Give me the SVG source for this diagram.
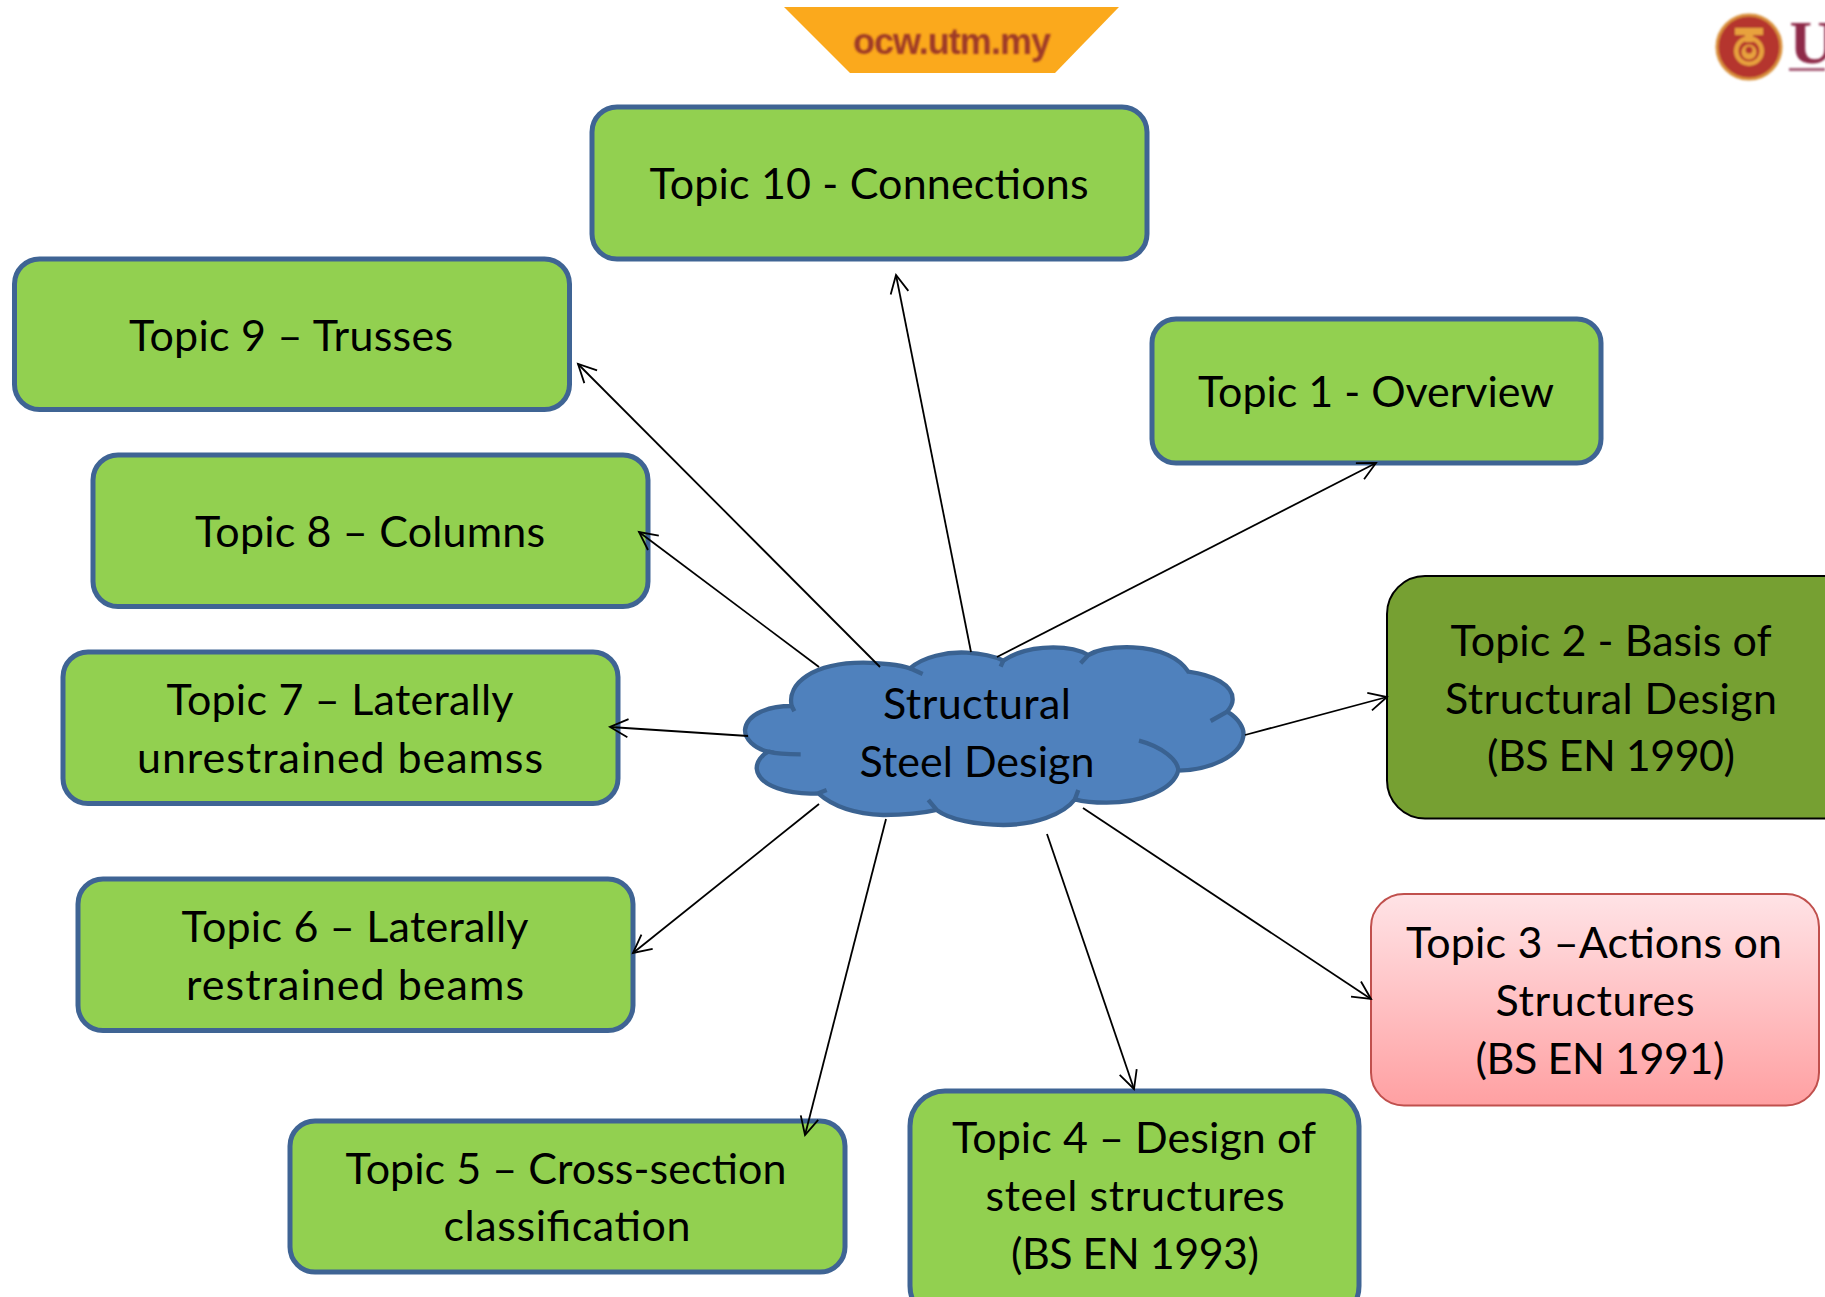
<svg xmlns="http://www.w3.org/2000/svg" width="1825" height="1297" viewBox="0 0 1825 1297">
<style>
text{font-family:Lato,"Liberation Sans",sans-serif;font-size:43px;fill:#000;text-anchor:middle}
.b{fill:#92D050;stroke:#3F6494;stroke-width:5}
.c{stroke:#000;stroke-width:1.8;fill:none;marker-end:url(#a)}
</style>
<defs>
<marker id="a" markerUnits="userSpaceOnUse" markerWidth="24" markerHeight="24" refX="19" refY="10" orient="auto" viewBox="0 0 24 20"><path d="M1 1L19 10L1 19" fill="none" stroke="#000" stroke-width="1.8"/></marker>
<linearGradient id="g" x1="0" y1="0" x2="0" y2="1"><stop offset="0" stop-color="#FFE3E6"/><stop offset="1" stop-color="#FFA0A2"/></linearGradient>
<filter id="s"><feGaussianBlur stdDeviation="0.8"/></filter>
</defs>
<rect width="1825" height="1297" fill="#fff"/>
<g id="banner"><path d="M784 7H1119L1055 73H850Z" fill="#FBA91C"/><text x="952" y="54" textLength="198" style="font-family:'Liberation Sans',sans-serif;font-size:36px;fill:#9E3A26;font-weight:bold" filter="url(#s)">ocw.utm.my</text></g>
<g id="logo" filter="url(#s)"><circle cx="1749" cy="47" r="32" fill="#B5352F" stroke="#D9903A" stroke-width="3"/><circle cx="1749" cy="51" r="15" fill="#E8A23C"/><circle cx="1749" cy="51" r="10.5" fill="#B5352F"/><circle cx="1749" cy="52" r="7.5" fill="#E8A23C"/><circle cx="1749" cy="50" r="3.5" fill="#B5352F"/><path d="M1735 28H1763V35H1753V42H1745V35H1735Z" fill="#E8A23C"/><text x="1812" y="63" style="font-family:'Liberation Serif',serif;font-size:62px;fill:#8E2A4A;font-weight:bold">U</text><rect x="1789" y="68" width="36" height="3" fill="#A8607A"/></g>
<g id="t10"><rect class="b" x="592" y="107" width="555" height="152" rx="25"/><text x="869" y="199" textLength="439">Topic 10 - Connections</text></g>
<g id="t9"><rect class="b" x="14.500" y="259" width="555" height="150.500" rx="25"/><text x="291" y="351" textLength="324">Topic 9 – Trusses</text></g>
<g id="t8"><rect class="b" x="93" y="455" width="555" height="151.500" rx="25"/><text x="370" y="547" textLength="350">Topic 8 – Columns</text></g>
<g id="t7"><rect class="b" x="63" y="652" width="555" height="151.500" rx="25"/><text x="340" y="715" textLength="347">Topic 7 – Laterally</text><text x="340" y="773" textLength="406">unrestrained beamss</text></g>
<g id="t6"><rect class="b" x="78" y="879" width="555" height="151.500" rx="25"/><text x="355" y="942" textLength="347">Topic 6 – Laterally</text><text x="355" y="1000" textLength="338">restrained beams</text></g>
<g id="t5"><rect class="b" x="290" y="1121" width="555" height="151" rx="25"/><text x="566" y="1184" textLength="441">Topic 5 – Cross-section</text><text x="567" y="1241" textLength="247">classification</text></g>
<g id="t4"><rect class="b" x="910" y="1091" width="449" height="230" rx="35"/><text x="1134" y="1153" textLength="364">Topic 4 – Design of</text><text x="1135" y="1211" textLength="299">steel structures</text><text x="1135" y="1269" textLength="248">(BS EN 1993)</text></g>
<g id="t1"><rect class="b" x="1152" y="319" width="449" height="144" rx="24"/><text x="1376" y="407" textLength="356">Topic 1 - Overview</text></g>
<g id="t2"><rect x="1387" y="576" width="480" height="242.500" rx="38" fill="#76A032" stroke="#000" stroke-width="2"/><text x="1611" y="656" textLength="321">Topic 2 - Basis of</text><text x="1611" y="714" textLength="332">Structural Design</text><text x="1611" y="771" textLength="248">(BS EN 1990)</text></g>
<g id="t3"><rect x="1371" y="894" width="448" height="211.500" rx="33" fill="url(#g)" stroke="#C0504D" stroke-width="2"/><text x="1594" y="958" textLength="376">Topic 3 –Actions on</text><text x="1595" y="1016" textLength="199">Structures</text><text x="1600" y="1074" textLength="249">(BS EN 1991)</text></g>
<g id="cloud">
<g transform="translate(740 620) scale(.3333)">
<path d="M15 330C20 280 90 258 155 258C140 190 220 128 370 128C420 128 480 135 510 145C550 110 620 95 680 98C720 100 755 105 790 122C830 95 880 82 940 82C980 82 1020 90 1045 105C1080 85 1130 80 1180 82C1260 85 1320 115 1345 155C1420 165 1480 195 1478 240C1478 255 1470 265 1462 275C1495 295 1515 325 1510 350C1500 410 1410 450 1315 452C1300 510 1200 548 1100 548C1070 548 1030 545 1005 538C970 585 880 615 790 615C710 615 630 600 590 570C540 582 490 585 430 585C350 582 280 560 235 520C150 525 55 500 50 445C50 425 65 405 85 395C40 385 15 355 15 330Z" fill="#4F81BD" stroke="#3A6291" stroke-width="13"/>
<path d="M155 258L163 274M510 145L548 162M790 122L782 140M1045 105L1022 130M1462 275L1412 303M1197 362C1265 380 1315 420 1315 452M1005 538L1015 510M590 570L565 540M235 520L260 510M85 395C115 403 150 403 182 403" fill="none" stroke="#3A6291" stroke-width="13"/>
</g>
<text x="977" y="719" textLength="188">Structural</text><text x="977" y="777" textLength="235">Steel Design</text></g>
<g id="connectors">
<path class="c" d="M971 652L896 275"/>
<path class="c" d="M997 657L1376 463"/>
<path class="c" d="M880 667L578 364"/>
<path class="c" d="M819 667L639 532"/>
<path class="c" d="M748 736L610 727"/>
<path class="c" d="M819 804L633 953"/>
<path class="c" d="M886 819L805 1135"/>
<path class="c" d="M1047 834L1134 1089"/>
<path class="c" d="M1083 808L1371 999"/>
<path class="c" d="M1245 735L1387 697"/>
</g>
</svg>
